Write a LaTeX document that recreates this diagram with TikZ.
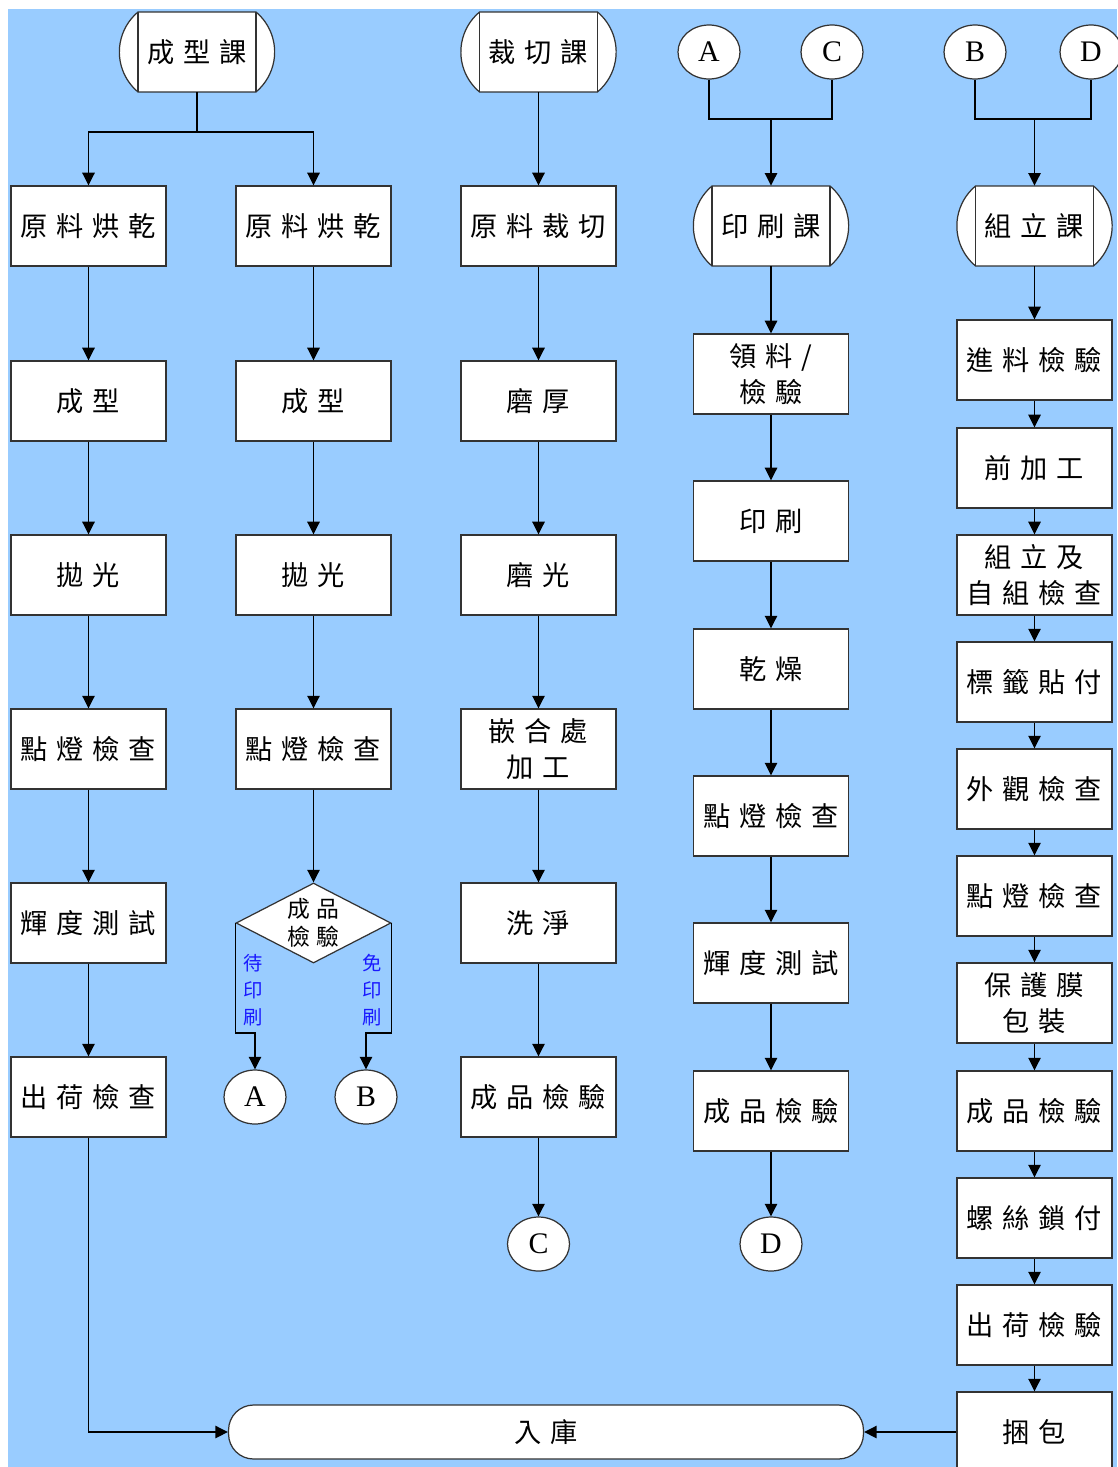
\documentclass[tikz,border=0pt]{standalone}
\usepackage{fontspec}
\setmainfont{Liberation Serif}
\newfontfamily\cjk{Noto Sans CJK TC}
\usepackage{tikz}
\usetikzlibrary{calc,shapes.geometric,arrows.meta}
\definecolor{bgblue}{RGB}{153,204,255}
\definecolor{labelblue}{RGB}{25,25,255}

\newcommand{\boxfont}{\fontsize{15.5}{20.4}\selectfont\cjk\spaceskip=0.32em\relax}
\newcommand{\qcfont}{\fontsize{13}{16}\selectfont\cjk\spaceskip=0.3em\relax}

% department header: box with bulged ends and inner bars
\newcommand{\deptbox}[3]{%
  \coordinate (#1-c) at (#2);
  \draw[deptline, fill=white] ([shift={(-59,40)}]#1-c) -- ++(118,0)
    arc[start angle=50, end angle=-50, radius=1.044cm] -- ++(-118,0)
    arc[start angle=230, end angle=130, radius=1.044cm] -- cycle;
  \draw[deptline] ([shift={(-59,40)}]#1-c) -- ++(0,-80)
    ([shift={(59,40)}]#1-c) -- ++(0,-80);
  \node[dept] (#1) at (#1-c) {#3};
}

\begin{document}
\begin{tikzpicture}[x=0.02cm,y=0.02cm]
  \tikzset{
    flow/.style={-{Triangle[length=7.2pt,width=7pt]}, black, line width=1pt},
    link/.style={black, line width=1pt},
    stepbox/.style={draw=black!80, fill=white, line width=0.7pt, minimum width=3.1cm, minimum height=1.6cm, inner sep=0pt, align=center, font=\boxfont},
    dept/.style={inner sep=0pt, minimum width=2.36cm, minimum height=1.6cm, align=center, font=\boxfont},
    deptline/.style={draw=black!80, line width=0.7pt},
    conn/.style={ellipse, draw=black!80, fill=white, line width=0.7pt, minimum width=1.24cm, minimum height=1.08cm, inner sep=0pt, font=\fontsize{17}{20}\selectfont},
    decision/.style={diamond, draw=black!80, fill=white, line width=0.7pt, minimum width=3.1cm, minimum height=1.6cm, inner sep=0pt},
    qctext/.style={align=center, font=\qcfont, inner sep=0pt},
    storebox/.style={draw=black!80, fill=white, line width=0.7pt, rounded corners=0.5cm, minimum width=12.7cm, minimum height=1.08cm, font=\boxfont},
    branch/.style={text=labelblue, align=center, font=\fontsize{11}{15.3}\selectfont\cjk}
  }

  % X positions of the columns
  \def\xA{88.5}
  \def\xB{313.5}
  \def\xC{538.5}
  \def\xP{771}
  \def\xS{1034.5}

  \useasboundingbox (0,0) rectangle (1117,-1467);
  \fill[bgblue] (8,-9) rectangle (1117,-1467);

  % Headers
  \deptbox{mold}{197,-52}{成 型 課}
  \deptbox{cut}{\xC,-52}{裁 切 課}
  \deptbox{print}{\xP,-226}{印 刷 課}
  \deptbox{assy}{\xS,-226}{組 立 課}

  \node[conn] (fromA) at (709,-52) {A};
  \node[conn] (fromC) at (832,-52) {C};
  \node[conn] (fromB) at (975,-52) {B};
  \node[conn] (fromD) at (1091,-52) {D};

  % Molding, first line
  \node[stepbox] (dryA) at (\xA,-226) {原 料 烘 乾};
  \node[stepbox] (formA) at (\xA,-401) {成 型};
  \node[stepbox] (polA) at (\xA,-575) {拋 光};
  \node[stepbox] (lightA) at (\xA,-749) {點 燈 檢 查};
  \node[stepbox] (lumA) at (\xA,-923) {輝 度 測 試};
  \node[stepbox] (shipA) at (\xA,-1097) {出 荷 檢 查};

  % Molding, second line
  \node[stepbox] (dryB) at (\xB,-226) {原 料 烘 乾};
  \node[stepbox] (formB) at (\xB,-401) {成 型};
  \node[stepbox] (polB) at (\xB,-575) {拋 光};
  \node[stepbox] (lightB) at (\xB,-749) {點 燈 檢 查};
  \node[decision] (qcB) at (\xB,-923) {};
  \node[qctext] (qcBtext) at (qcB.center) {成 品\\檢 驗};
  \node[conn] (toA) at (255,-1097) {A};
  \node[conn] (toB) at (366,-1097) {B};
  \node[branch] (waitP) at (253,-990) {待\\印\\刷};
  \node[branch] (skipP) at (372,-990) {免\\印\\刷};

  % Cutting
  \node[stepbox] (cutraw) at (\xC,-226) {原 料 裁 切};
  \node[stepbox] (grind) at (\xC,-401) {磨 厚};
  \node[stepbox] (gloss) at (\xC,-575) {磨 光};
  \node[stepbox] (fit) at (\xC,-749) {嵌 合 處\\加 工};
  \node[stepbox] (wash) at (\xC,-923) {洗 淨};
  \node[stepbox] (finC) at (\xC,-1097) {成 品 檢 驗};
  \node[conn] (toC) at (\xC,-1244) {C};

  % Printing
  \node[stepbox] (pick) at (\xP,-374) {領 料 /\\檢 驗};
  \node[stepbox] (prt) at (\xP,-521) {印 刷};
  \node[stepbox] (dryP) at (\xP,-669) {乾 燥};
  \node[stepbox] (lightP) at (\xP,-816) {點 燈 檢 查};
  \node[stepbox] (lumP) at (\xP,-963) {輝 度 測 試};
  \node[stepbox] (finP) at (\xP,-1111) {成 品 檢 驗};
  \node[conn] (toD) at (\xP,-1244) {D};

  % Assembly
  \node[stepbox] (inc) at (\xS,-360) {進 料 檢 驗};
  \node[stepbox] (pre) at (\xS,-468) {前 加 工};
  \node[stepbox] (asm) at (\xS,-575) {組 立 及\\自 組 檢 查};
  \node[stepbox] (tag) at (\xS,-682) {標 籤 貼 付};
  \node[stepbox] (look) at (\xS,-789) {外 觀 檢 查};
  \node[stepbox] (lightS) at (\xS,-896) {點 燈 檢 查};
  \node[stepbox] (film) at (\xS,-1003) {保 護 膜\\包 裝};
  \node[stepbox] (finS) at (\xS,-1111) {成 品 檢 驗};
  \node[stepbox] (screw) at (\xS,-1218) {螺 絲 鎖 付};
  \node[stepbox] (shipS) at (\xS,-1325) {出 荷 檢 驗};
  \node[stepbox] (pack) at (\xS,-1432) {捆 包};

  \node[storebox] (store) at (546,-1432) {入 庫};

  % Splits and joins
  \draw[link] (mold.south) -- ++(0,-40) coordinate (moldsplit);
  \draw[flow] (moldsplit) -| (dryA.north);
  \draw[flow] (moldsplit) -| (dryB.north);
  \draw[link] (fromA.south) |- (\xP,-119) coordinate (pjoin) -| (fromC.south);
  \draw[flow] (pjoin) -- (print.north);
  \draw[link] (fromB.south) |- (\xS,-119) coordinate (sjoin) -| (fromD.south);
  \draw[flow] (sjoin) -- (assy.north);

  % Column flows
  \draw[flow] (dryA) -- (formA);
  \draw[flow] (formA) -- (polA);
  \draw[flow] (polA) -- (lightA);
  \draw[flow] (lightA) -- (lumA);
  \draw[flow] (lumA) -- (shipA);
  \draw[flow] (shipA.south) |- (store.west);

  \draw[flow] (dryB) -- (formB);
  \draw[flow] (formB) -- (polB);
  \draw[flow] (polB) -- (lightB);
  \draw[flow] (lightB) -- (qcB.north);
  \draw[flow] (qcB.west) -- ++(0,-110) -| (toA.north);
  \draw[flow] (qcB.east) -- ++(0,-110) -| (toB.north);

  \draw[flow] (cut) -- (cutraw);
  \draw[flow] (cutraw) -- (grind);
  \draw[flow] (grind) -- (gloss);
  \draw[flow] (gloss) -- (fit);
  \draw[flow] (fit) -- (wash);
  \draw[flow] (wash) -- (finC);
  \draw[flow] (finC) -- (toC);

  \draw[flow] (print) -- (pick);
  \draw[flow] (pick) -- (prt);
  \draw[flow] (prt) -- (dryP);
  \draw[flow] (dryP) -- (lightP);
  \draw[flow] (lightP) -- (lumP);
  \draw[flow] (lumP) -- (finP);
  \draw[flow] (finP) -- (toD);

  \draw[flow] (assy) -- (inc);
  \draw[flow] (inc) -- (pre);
  \draw[flow] (pre) -- (asm);
  \draw[flow] (asm) -- (tag);
  \draw[flow] (tag) -- (look);
  \draw[flow] (look) -- (lightS);
  \draw[flow] (lightS) -- (film);
  \draw[flow] (film) -- (finS);
  \draw[flow] (finS) -- (screw);
  \draw[flow] (screw) -- (shipS);
  \draw[flow] (shipS) -- (pack);
  \draw[flow] (pack) -- (store);

\end{tikzpicture}
\end{document}
